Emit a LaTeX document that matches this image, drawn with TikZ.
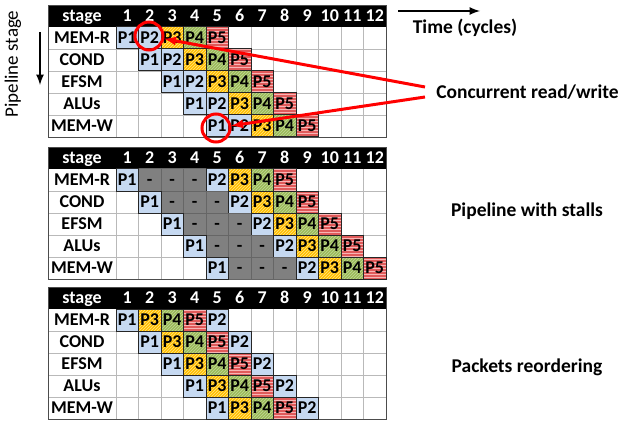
\documentclass[tikz,border=0pt]{standalone}
\usepackage{fontspec}
\setmainfont{Carlito}
\usepackage{tikz}
\usetikzlibrary{arrows,patterns}
\definecolor{pktblue}{HTML}{C6D9F1}
\definecolor{pktorange}{HTML}{FFC000}
\definecolor{pktorangeln}{HTML}{FFE38A}
\definecolor{pktgreen}{HTML}{9BBB59}
\definecolor{pktgreenln}{HTML}{C3D69B}
\definecolor{pktred}{HTML}{E05A5A}
\definecolor{pktredln}{HTML}{F7B5B5}
\definecolor{stallgray}{HTML}{808080}
\newcommand{\tabfont}{\bfseries\fontsize{18}{21}\selectfont}
\newcommand{\notefont}{\bfseries\fontsize{19.5}{22}\selectfont}
\tikzset{
  cell/.style={minimum width=22.5pt, minimum height=22pt, inner sep=0pt,
    text height=11.6pt, text depth=0pt, font=\tabfont},
  head/.style={cell, text=white},
  stagename/.style={cell, minimum width=68pt},
  pkt1/.style={cell, draw=black!85, line width=1pt, fill=pktblue},
  pkt2/.style={pkt1},
  pkt3/.style={cell, draw=black!85, line width=1pt, preaction={fill=pktorange},
    pattern=north east lines, pattern color=pktorangeln},
  pkt4/.style={cell, draw=black!85, line width=1pt, preaction={fill=pktgreen},
    pattern=north east lines, pattern color=pktgreenln},
  pkt5/.style={cell, draw=black!85, line width=1pt, preaction={fill=pktred},
    pattern=horizontal lines, pattern color=pktredln},
  stall/.style={cell, draw=black!60, line width=1pt, fill=stallgray},
  gridline/.style={gray!55, line width=0.6pt},
  note/.style={font=\notefont, inner sep=0pt, anchor=base},
  hot/.style={red, line width=3pt},
  spot/.style={hot, draw, circle, minimum size=28pt, inner sep=0pt},
  bigarrow/.style={line width=2.5pt, ->},
}
\begin{document}
\begin{tikzpicture}[x=1pt, y=-1pt, >=latex]
  \useasboundingbox (0,0) rectangle (624,425);
  % the three tables
  \foreach \t/\ty in {1/5, 2/147, 3/287} {
    \fill (48,\ty) rectangle (386,\ty+22);
    \node [head, minimum width=68pt] (H\t-0) at (82,\ty+11) {stage};
    \foreach \c in {1,...,12}
      \node [head] (H\t-\c) at (104.75+22.5*\c,\ty+11) {\c};
    \foreach \s [count=\r] in {MEM-R,COND,EFSM,ALUs,MEM-W}
      \node [stagename] (S\t-\r) at (82,\ty+11+22*\r) {\s};
    \foreach \r in {2,...,5}
      \draw [gridline] (48,\ty+22*\r) -- (386,\ty+22*\r);
    \foreach \c in {0,...,11}
      \draw [gridline] (116+22.5*\c,\ty+22) -- (116+22.5*\c,\ty+132);
    \draw [black!70, line width=0.8pt] (48,\ty) rectangle (386,\ty+132);
  }
  % plain pipeline
  \foreach \r in {1,...,5}
    \foreach \p in {1,...,5}
      \node [pkt\p] (A\r-\p) at ({104.75+22.5*(\r+\p-1)},{16+22*\r}) {P\p};
  % pipeline with stalls
  \foreach \r in {1,...,5} {
    \foreach \k in {1,2,3}
      \node [stall] (B\r-s\k) at ({104.75+22.5*(\r+\k)},{158+22*\r}) {-};
    \foreach \p/\k in {1/0,2/4,3/5,4/6,5/7}
      \node [pkt\p] (B\r-\p) at ({104.75+22.5*(\r+\k)},{158+22*\r}) {P\p};
  }
  % packets reordering
  \foreach \r in {1,...,5}
    \foreach \p [count=\k from 0] in {1,3,4,5,2}
      \node [pkt\p] (C\r-\p) at ({104.75+22.5*(\r+\k)},{298+22*\r}) {P\p};
  % labels
  \node [rotate=90, font=\fontsize{19}{22}\selectfont] (PS) at (13,64) {Pipeline stage};
  \coordinate (P0) at (40,32);
  \coordinate (P1) at (40,85);
  \draw [bigarrow] (P0) -- (P1);
  \node [note] (TC) at (465,34) {Time (cycles)};
  \coordinate (T0) at (398,11);
  \coordinate (T1) at (480,11);
  \draw [bigarrow] (T0) -- (T1);
  \node [note] (CRW) at (527.5,99) {Concurrent read/write};
  \node [note] (PWS) at (527,216) {Pipeline with stalls};
  \node [note] (PRO) at (527,372) {Packets reordering};
  % concurrent access
  \node [spot] (RD) at (149,36) {};
  \node [spot] (WR) at (216,128) {};
  \coordinate (CR1) at (425,87);
  \coordinate (CR2) at (425,97);
  \draw [hot, ->] (CR1) -- (RD);
  \draw [hot, ->] (CR2) -- (WR);
\end{tikzpicture}
\end{document}
